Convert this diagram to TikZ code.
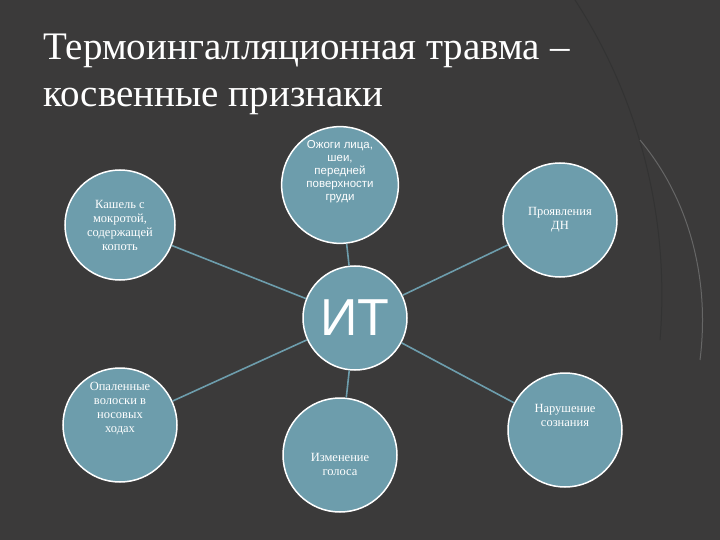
\documentclass[tikz,border=0pt]{standalone}
\usepackage{fontspec}
\setmainfont{Liberation Serif}
\newfontfamily\sansf{Liberation Sans}
\begin{document}
\begin{tikzpicture}[x=1pt,y=-1pt,
  bubble/.style={circle,fill=bub,draw=white,line width=1.5pt,minimum size=#1,inner sep=2pt,align=center,text=white,font=\fontsize{12.5}{14}\selectfont},
  link/.style={draw=bub,line width=1.6pt}]
\definecolor{bg}{HTML}{3B3A3A}
\definecolor{bub}{HTML}{6D9DAC}
\fill[bg] (0,0) rectangle (720,540);
\useasboundingbox (0,0) rectangle (720,540);
\draw[black!80,line width=1pt] (575,0) .. controls (640,100) and (670,220) .. (660,340);
\draw[black!60,line width=1pt] (640,140) .. controls (690,200) and (710,280) .. (700,360);
\node[anchor=base west,text=white,font=\fontsize{39}{44}\selectfont] (t1) at (40,60) {Термоингалляционная травма –};
\node[anchor=base west,text=white,font=\fontsize{39}{44}\selectfont] (t2) at (40,107) {косвенные признаки};
\node[bubble=104pt,font=\sansf\fontsize{52}{52}\selectfont] (c) at (355,318) {ИТ};
\node[bubble=110pt,font=\sansf\fontsize{11.5}{13}\selectfont] (a) at (340,185) {Ожоги лица,\\ шеи,\\ передней\\ поверхности\\ груди\\[16pt]};
\node[bubble=110pt] (b) at (120,225) {Кашель с\\ мокротой,\\ содержащей\\ копоть};
\node[bubble=114pt] (d) at (560,220) {Проявления\\ ДН};
\node[bubble=114pt] (e) at (120,425) {\\[-18pt]Опаленные\\ волоски в\\ носовых\\ ходах\\[14pt]};
\node[bubble=114pt] (f) at (340,455) {\\[14pt]Изменение\\ голоса};
\node[bubble=114pt] (g) at (565,430) {Нарушение\\ сознания\\[16pt]};
\path[link] (c) -- (a); \path[link] (c) -- (b); \path[link] (c) -- (d);
\path[link] (c) -- (e); \path[link] (c) -- (f); \path[link] (c) -- (g);
\end{tikzpicture}
\end{document}
